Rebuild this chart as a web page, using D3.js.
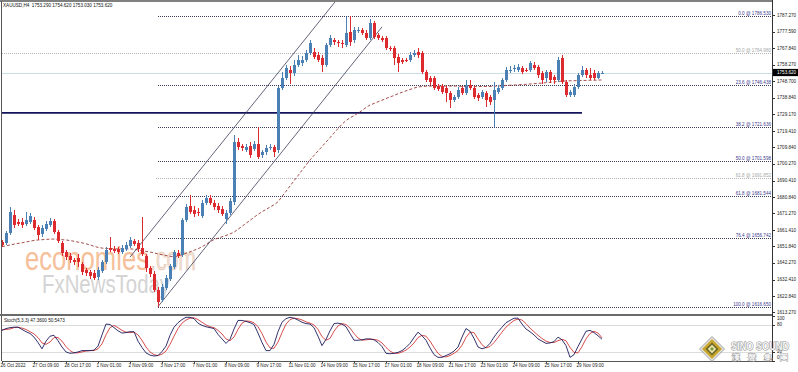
<!DOCTYPE html>
<html><head><meta charset="utf-8">
<script src="https://cdn.jsdelivr.net/npm/d3@7"></script>
<style>body{margin:0;background:#fff;overflow:hidden}svg{display:block}text{font-family:"Liberation Sans",Arial,sans-serif}</style>
</head><body><svg id="c" width="798" height="372"></svg>
<script>
const title = "XAUUSD,H4  1753.290 1754.620 1753.030 1753.620";
const stochTitle = "Stoch(5,3,3) 47.3600 50.5473";
const timeLabels = ["26 Oct 2022","27 Oct 09:00","28 Oct 17:00","1 Nov 01:00","2 Nov 09:00","3 Nov 17:00","7 Nov 01:00","8 Nov 09:00","9 Nov 17:00","11 Nov 01:00","14 Nov 09:00","15 Nov 17:00","17 Nov 01:00","18 Nov 09:00","21 Nov 17:00","23 Nov 01:00","24 Nov 09:00","25 Nov 17:00","29 Nov 09:00"];
const barsPerLabel = 8;
const priceTicks = [1787.270,1777.590,1767.840,1758.270,1748.700,1738.840,1729.170,1719.410,1709.840,1700.270,1690.410,1680.840,1671.270,1661.410,1651.840,1642.270,1632.410,1622.840,1613.270];
const stochTicks = [100,80,20,0];
const stochLevels = [80,20];
const bidPrice = 1753.62;
const supportLine = 1730.0;
const supportEndBar = 145;
const fibMain = [["0.0",1786.530],["23.6",1746.438],["38.2",1721.636],["50.0",1701.598],["61.8",1681.544],["76.4",1656.742],["100.0",1616.650]];
const fibMainStart = 39;
const fibAlt = [["50.0",1764.980,-1],["61.8",1691.852,38.5]];
const channelLower = [[39,1616.65],[95,1780.3]];
const channelUpper = [[32,1645.6],[84,1797.1]];

const open = [1654.5,1653.9,1659.75,1670.3,1666.2,1666.2,1665.0,1666.2,1667.35,1663.3,
1659.2,1662.1,1664.4,1666.8,1660.3,1653.9,1648.6,1646.3,1643.95,1645.1,
1641.6,1638.1,1636.9,1636.3,1634.0,1637.5,1642.8,1651.0,1650.4,1650.4,
1648.6,1650.4,1652.1,1655.1,1653.9,1651.0,1646.3,1639.3,1635.8,1626.4,
1620.55,1627.6,1632.9,1639.85,1648.0,1646.9,1667.35,1675.5,1673.2,1672.0,
1669.7,1677.3,1680.2,1677.3,1675.5,1673.8,1667.9,1671.45,1677.9,1713.0,
1710.6,1708.3,1710.6,1708.9,1711.8,1705.4,1707.1,1709.5,1710.1,1708.3,
1744.6,1750.4,1755.1,1753.3,1758.0,1759.2,1761.0,1765.05,1765.6,1763.9,
1762.1,1758.0,1769.7,1772.65,1771.5,1770.9,1769.7,1777.3,1772.65,1777.9,
1778.5,1776.7,1773.8,1782.6,1775.6,1773.8,1773.8,1768.0,1768.0,1762.7,
1761.0,1761.0,1761.0,1763.9,1765.6,1765.05,1753.9,1750.4,1750.4,1745.7,
1745.7,1744.6,1741.6,1737.55,1739.3,1744.6,1741.6,1746.3,1744.6,1740.5,
1739.3,1741.6,1739.3,1737.55,1742.2,1744.6,1749.25,1754.5,1755.7,1755.1,
1756.3,1755.1,1755.1,1758.0,1756.9,1753.3,1750.4,1753.9,1751.0,1749.25,
1762.1,1748.1,1740.5,1740.5,1745.2,1752.2,1755.1,1752.2,1753.3,1750.4,
1753.29];
const close = [1652.7,1659.75,1672.0,1664.4,1665.0,1664.4,1667.35,1669.7,1662.7,1658.6,
1662.7,1665.0,1666.8,1660.3,1655.1,1648.0,1645.7,1643.95,1642.8,1642.8,
1636.9,1636.3,1634.6,1633.4,1638.1,1642.8,1649.8,1649.8,1649.2,1648.6,
1651.0,1652.7,1655.65,1653.3,1650.4,1647.5,1639.3,1635.8,1626.4,1619.4,
1628.2,1633.4,1640.4,1648.6,1646.3,1667.35,1674.9,1672.0,1670.9,1671.45,
1677.3,1680.2,1677.3,1674.9,1673.2,1670.9,1671.45,1678.5,1713.0,1710.1,
1709.5,1710.1,1705.4,1711.8,1704.2,1707.1,1709.5,1710.1,1707.1,1744.6,
1750.4,1756.3,1753.3,1758.0,1761.0,1761.0,1765.05,1770.9,1762.7,1761.0,
1758.0,1769.7,1773.8,1771.5,1770.9,1770.3,1776.7,1771.5,1778.5,1778.5,
1776.7,1773.8,1782.6,1774.4,1773.8,1772.65,1768.0,1767.4,1762.1,1759.2,
1759.8,1760.4,1763.9,1765.05,1763.9,1753.9,1749.25,1748.1,1744.6,1744.0,
1742.2,1741.6,1737.55,1739.3,1743.4,1741.6,1746.3,1744.6,1739.3,1738.7,
1742.2,1737.55,1736.4,1743.4,1744.6,1749.25,1755.1,1755.1,1756.3,1756.9,
1753.9,1754.5,1759.2,1756.3,1752.2,1749.25,1753.9,1749.25,1749.25,1761.0,
1748.1,1740.5,1742.2,1745.2,1752.2,1755.1,1752.2,1750.4,1750.4,1753.3,
1753.62];
const high = [1655.65,1660.9,1674.9,1673.2,1667.9,1668.5,1672.0,1671.45,1669.1,1664.4,
1664.4,1666.8,1668.5,1667.9,1661.5,1655.1,1649.8,1648.0,1645.1,1647.5,
1642.8,1639.3,1638.1,1638.1,1639.85,1643.95,1651.6,1657.4,1652.1,1651.6,
1652.7,1654.5,1657.4,1656.2,1655.65,1669.1,1647.5,1640.4,1637.5,1628.2,
1629.9,1635.2,1641.6,1649.8,1649.8,1668.5,1676.7,1682.0,1675.5,1674.4,
1679.05,1682.0,1682.0,1679.05,1677.3,1675.5,1673.2,1680.2,1717.1,1715.3,
1711.8,1711.8,1713.0,1713.6,1721.8,1708.3,1711.2,1711.8,1711.2,1745.7,
1753.9,1758.0,1757.4,1761.0,1763.9,1763.3,1766.8,1772.65,1768.0,1765.6,
1763.9,1770.9,1775.6,1773.8,1772.65,1772.65,1786.1,1786.53,1780.3,1780.3,
1779.7,1778.5,1784.9,1783.8,1776.7,1775.0,1775.0,1769.1,1769.1,1764.5,
1762.1,1762.1,1765.6,1766.8,1768.0,1766.2,1755.1,1751.6,1751.6,1746.9,
1746.9,1745.7,1742.8,1740.5,1745.2,1745.7,1749.25,1749.25,1745.7,1741.6,
1743.4,1742.8,1740.5,1748.1,1746.3,1750.4,1756.9,1757.4,1758.0,1758.6,
1757.4,1756.3,1760.4,1759.8,1758.0,1754.5,1755.1,1755.1,1752.2,1762.7,
1763.9,1749.25,1743.4,1746.9,1753.3,1757.4,1756.3,1756.3,1755.1,1754.5,
1754.62];
const low = [1651.6,1652.7,1658.6,1662.7,1663.9,1662.7,1663.9,1665.0,1661.5,1655.65,
1657.4,1660.9,1663.3,1659.2,1653.9,1646.3,1643.95,1642.2,1641.0,1639.85,
1635.2,1634.6,1632.9,1632.25,1632.25,1636.3,1641.6,1648.6,1648.0,1647.5,
1647.5,1649.2,1651.0,1652.1,1648.6,1646.3,1636.9,1634.0,1625.2,1616.65,
1619.4,1626.4,1631.7,1638.7,1645.1,1645.7,1666.2,1670.9,1669.1,1669.7,
1668.5,1676.1,1676.1,1673.2,1671.45,1669.7,1665.0,1670.3,1676.1,1708.3,
1707.7,1707.1,1703.6,1707.7,1703.0,1703.6,1705.4,1708.3,1704.2,1706.5,
1743.4,1749.25,1746.9,1751.6,1756.9,1757.4,1759.8,1763.9,1761.5,1759.8,
1753.9,1756.9,1768.6,1769.7,1768.6,1768.0,1768.6,1769.1,1770.9,1776.7,
1775.6,1772.65,1772.65,1773.2,1772.65,1771.5,1766.8,1766.2,1758.0,1753.9,
1758.6,1759.8,1759.8,1762.7,1762.1,1752.8,1748.1,1746.3,1743.4,1742.8,
1741.1,1736.4,1732.9,1736.4,1738.1,1740.5,1740.5,1743.4,1738.1,1737.0,
1738.1,1733.5,1734.6,1721.8,1741.1,1743.4,1748.1,1753.3,1753.9,1753.9,
1752.8,1753.9,1753.9,1755.1,1750.4,1746.9,1748.1,1747.5,1746.9,1748.1,
1746.9,1739.3,1739.3,1739.3,1744.0,1751.0,1750.4,1749.25,1749.25,1749.8,
1753.03];
const ma = [1651.8,1652.2,1652.7,1653.2,1653.6,1654.0,1654.5,1654.9,1655.4,1655.65,
1655.8,1656.0,1656.1,1656.2,1656.0,1655.8,1655.65,1655.3,1654.9,1654.4,
1654.0,1653.4,1652.7,1652.0,1651.3,1650.9,1650.7,1650.6,1650.5,1650.4,
1650.4,1650.4,1650.4,1650.3,1649.8,1649.4,1649.0,1648.6,1648.1,1647.5,
1647.0,1646.5,1646.1,1645.8,1646.3,1647.0,1647.9,1648.7,1649.6,1650.5,
1651.7,1653.1,1654.6,1655.9,1656.7,1657.5,1658.3,1659.2,1660.2,1661.9,
1663.6,1665.4,1667.1,1668.9,1670.6,1672.2,1673.5,1674.9,1676.2,1678.0,
1681.1,1684.1,1687.2,1690.3,1693.3,1696.4,1699.4,1702.45,1705.1,1707.7,
1710.3,1712.9,1715.5,1718.2,1720.8,1723.4,1725.5,1727.1,1728.4,1729.8,
1731.4,1733.1,1734.6,1735.5,1736.5,1737.4,1738.4,1739.3,1740.2,1741.2,
1742.05,1742.9,1743.7,1744.5,1745.2,1745.4,1745.6,1745.7,1745.7,1745.7,
1745.7,1745.7,1745.7,1745.7,1745.7,1745.45,1745.45,1745.45,1745.45,1745.45,
1745.45,1745.45,1745.45,1745.6,1745.7,1745.9,1746.0,1746.2,1746.3,1746.4,
1746.6,1746.7,1746.9,1747.1,1747.3,1747.4,1747.7,1747.9,1748.1,1748.4,
1748.6,1748.7,1748.8,1748.8,1748.9,1748.95,1749.0,1749.1,1749.1,1749.2,
1749.25];
const stochK = [67,71,73,74,74,69,64,60,52,40,
26,43,54,56,44,30,19,16,17,19,
22,22,22,23,32,57,81,80,73,66,
61,62,64,64,43,29,17,12,10,11,
20,32,56,74,84,91,96,96,93,83,
78,75,73,71,58,48,38,47,70,89,
89,87,84,80,61,40,22,22,36,64,
85,93,96,94,90,85,82,81,73,54,
33,47,66,82,83,81,75,60,45,45,
46,48,48,46,40,31,16,15,16,18,
22,29,38,51,63,55,45,28,13,7,
7,11,15,21,30,52,71,65,49,30,
26,29,38,52,64,74,84,89,94,94,
81,70,64,57,48,43,38,39,42,52,
46,33,7,13,31,48,65,67,62,55,
47.36];
const stochD = [68,69,70,73,74,72,69,64,59,51,
39,36,41,51,51,43,31,22,17,17,
19,21,22,22,26,37,57,73,78,73,
67,63,62,63,57,45,30,19,13,11,
14,21,36,54,71,83,90,94,95,91,
85,79,75,73,67,59,48,44,52,69,
83,88,87,84,75,60,41,28,27,41,
62,81,91,94,93,90,86,83,79,69,
53,45,49,65,77,82,80,72,60,50,
45,46,47,47,45,39,29,21,16,16,
19,23,30,39,51,56,54,43,29,16,
9,8,11,16,22,34,51,63,62,48,
35,28,31,40,51,63,74,82,89,92,
90,82,72,64,56,49,43,40,40,44,
47,44,29,18,17,31,48,60,65,61,
50.55];

const N = open.length;
const plotL = 1.5, plotR = 772, plotT = 1, mainB = 313.5, stT = 315.5, stB = 361;
const x = d3.scaleLinear().domain([0, 150]).range([2, 602]);
const y = d3.scaleLinear().domain([1613.27, 1787.27]).range([312.4, 15]);
const ys = d3.scaleLinear().domain([0, 100]).range([360.5, 315.5]);
const FS = 4.6;
const svg = d3.select("#c");
const defs = svg.append("defs");
defs.append("clipPath").attr("id","cm").append("rect").attr("x",plotL).attr("y",plotT).attr("width",plotR-plotL).attr("height",mainB-plotT);
defs.append("clipPath").attr("id","cs").append("rect").attr("x",plotL).attr("y",stT).attr("width",plotR-plotL).attr("height",stB-stT);

const main = svg.append("g").attr("clip-path","url(#cm)");
// watermark
const wm = main.append("g");
wm.append("text").attr("x",25).attr("y",270).attr("font-size",34).attr("fill","#f6c09a").attr("textLength",124).attr("lengthAdjust","spacingAndGlyphs").text("economies");
wm.append("text").attr("x",150).attr("y",270).attr("font-size",34).attr("fill","#f1e0d4").attr("stroke","#e6c6ae").attr("stroke-width",0.6).attr("textLength",46).attr("lengthAdjust","spacingAndGlyphs").text(".com");
wm.append("text").attr("x",42).attr("y",293).attr("font-size",25).attr("fill","#d4d4d4").attr("textLength",128).attr("lengthAdjust","spacingAndGlyphs").text("FxNewsToday");

// alt fib (gray)
fibAlt.forEach(([lv,p,s]) => {
  main.append("line").attr("x1",x(s)).attr("x2",plotR).attr("y1",Math.round(y(p))+0.5).attr("y2",Math.round(y(p))+0.5)
    .attr("stroke","#b4b4b4").attr("stroke-dasharray","1,1");
});
// bid line
main.append("line").attr("x1",plotL).attr("x2",plotR).attr("y1",Math.round(y(bidPrice))+0.5).attr("y2",Math.round(y(bidPrice))+0.5).attr("stroke","#c8dfe4");
// main fib
fibMain.forEach(([lv,p]) => {
  main.append("line").attr("x1",x(fibMainStart)).attr("x2",plotR).attr("y1",Math.round(y(p))+0.5).attr("y2",Math.round(y(p))+0.5)
    .attr("stroke","#3a3a5c").attr("stroke-dasharray","1,1");
});
// support line
main.append("line").attr("x1",plotL).attr("x2",x(supportEndBar)).attr("y1",y(supportLine)).attr("y2",y(supportLine)).attr("stroke","#14145e").attr("stroke-width",1.6);
// MA
main.append("path").datum(ma).attr("fill","none").attr("stroke","#9a3b36").attr("stroke-width",0.9).attr("stroke-dasharray","3,2")
  .attr("d", d3.line().x((d,i)=>x(i)).y(d=>y(d)));
// channel
[channelLower, channelUpper].forEach(c => {
  main.append("line").attr("x1",x(c[0][0])).attr("y1",y(c[0][1])).attr("x2",x(c[1][0])).attr("y2",y(c[1][1]))
    .attr("stroke","#3c3c58").attr("stroke-width",0.8);
});
// candles
const bull = "#4a80b4", bear = "#dc2a2e";
const cg = main.append("g").attr("shape-rendering","crispEdges");
d3.range(N).forEach(i => {
  const cx = Math.round(x(i));
  const col = close[i] >= open[i] ? bull : bear;
  cg.append("line").attr("x1",cx+0.5).attr("x2",cx+0.5).attr("y1",y(high[i])).attr("y2",y(low[i])).attr("stroke",col);
  const t = Math.min(y(open[i]),y(close[i])), b = Math.max(y(open[i]),y(close[i]));
  cg.append("rect").attr("x",cx-1).attr("width",3).attr("y",t).attr("height",Math.max(1,b-t)).attr("fill",col);
});
// fib labels
fibMain.forEach(([lv,p]) => {
  main.append("text").attr("x",plotR-1).attr("y",y(p)-1).attr("text-anchor","end").attr("font-size",FS).attr("fill","#3a3a8c")
    .text(`${lv} @ ${p.toFixed(3)}`);
});
fibAlt.forEach(([lv,p]) => {
  main.append("text").attr("x",plotR-1).attr("y",y(p)-1).attr("text-anchor","end").attr("font-size",FS).attr("fill","#a6a6a6")
    .text(`${lv} @ ${p.toFixed(3)}`);
});

// stochastic panel
const st = svg.append("g").attr("clip-path","url(#cs)");
stochLevels.forEach(v => {
  st.append("line").attr("x1",plotL).attr("x2",plotR).attr("y1",Math.round(ys(v))+0.5).attr("y2",Math.round(ys(v))+0.5).attr("stroke","#b8b8b8").attr("stroke-dasharray","1,1");
});
st.append("path").datum(stochD).attr("fill","none").attr("stroke","#d23a3a").attr("stroke-width",0.9).attr("d", d3.line().x((d,i)=>x(i)).y(d=>ys(d)));
st.append("path").datum(stochK).attr("fill","none").attr("stroke","#1c1c5c").attr("stroke-width",0.9).attr("d", d3.line().x((d,i)=>x(i)).y(d=>ys(d)));
svg.append("text").attr("x",4).attr("y",321.5).attr("font-size",FS).attr("fill","#111").text(stochTitle);

// frames
const fr = svg.append("g").attr("shape-rendering","crispEdges");
fr.append("line").attr("x1",0).attr("x2",plotR).attr("y1",1).attr("y2",1).attr("stroke","#808080").attr("stroke-width",1.5);
fr.append("line").attr("x1",1.5).attr("x2",1.5).attr("y1",1).attr("y2",stB).attr("stroke","#555");
fr.append("line").attr("x1",0).attr("x2",plotR).attr("y1",314.5).attr("y2",314.5).attr("stroke","#6a6a6a").attr("stroke-width",2);
fr.append("line").attr("x1",1.5).attr("x2",plotR).attr("y1",stB+0.5).attr("y2",stB+0.5).attr("stroke","#555");
fr.append("line").attr("x1",plotR+0.5).attr("x2",plotR+0.5).attr("y1",0).attr("y2",stB+1).attr("stroke","#333");

// title
svg.append("text").attr("x",3).attr("y",6.5).attr("font-size",FS).attr("fill","#111").attr("xml:space","preserve").text(title);

// price axis
const ax = svg.append("g");
priceTicks.forEach(p => {
  const yy = y(p);
  ax.append("line").attr("x1",plotR).attr("x2",plotR+3).attr("y1",Math.round(yy)+0.5).attr("y2",Math.round(yy)+0.5).attr("stroke","#333");
  ax.append("text").attr("x",777).attr("y",yy+1.6).attr("font-size",FS).attr("fill","#222").text(p.toFixed(3));
});
stochTicks.forEach(v => {
  const yy = Math.max(318.5, Math.min(357.5, ys(v)));
  ax.append("line").attr("x1",plotR).attr("x2",plotR+3).attr("y1",Math.round(ys(v))+0.5).attr("y2",Math.round(ys(v))+0.5).attr("stroke","#333");
  ax.append("text").attr("x",777).attr("y",yy+1.6).attr("font-size",FS).attr("fill","#222").text(v);
});
// bid box
ax.append("rect").attr("x",plotR+1).attr("y",y(bidPrice)-3.6).attr("width",25).attr("height",7.2).attr("fill","#000");
ax.append("text").attr("x",777).attr("y",y(bidPrice)+1.6).attr("font-size",FS).attr("fill","#fff").text(bidPrice.toFixed(3));

// time axis
timeLabels.forEach((t,k) => {
  const xx = Math.round(x(k*barsPerLabel));
  ax.append("line").attr("x1",xx+0.5).attr("x2",xx+0.5).attr("y1",stB).attr("y2",stB+2.5).attr("stroke","#444");
  ax.append("text").attr("x",Math.max(0.5,xx-1.5)).attr("y",366.5).attr("font-size",FS).attr("fill","#222").text(t);
});

// logo
const lg = svg.append("g").attr("transform","translate(712,349)");
const dia = r => `M0,${-r}L${r},0L0,${r}L${-r},0Z`;
lg.append("path").attr("d",dia(12.5)).attr("fill","#e2e2e2").attr("stroke","#8c8c8c").attr("stroke-width",0.8);
lg.append("path").attr("d",dia(10)).attr("fill","#c9a62c");
lg.append("path").attr("d",dia(6.5)).attr("fill","#6f6a2a");
lg.append("path").attr("d",dia(4.2)).attr("fill","#eae6b0");
lg.append("path").attr("d",dia(2)).attr("fill","#7f9a3a");
svg.append("text").attr("x",731).attr("y",350).attr("font-size",10).attr("font-weight","bold").attr("fill","#f6f6f6")
  .attr("stroke","#8a8a8a").attr("stroke-width",1).attr("paint-order","stroke").attr("textLength",58).attr("lengthAdjust","spacingAndGlyphs").text("SINO SOUND");
svg.append("text").attr("x",732).attr("y",360).attr("font-size",7.5).attr("font-family","Noto Sans CJK TC").attr("font-weight","bold").attr("fill","#f6f6f6")
  .attr("stroke","#8a8a8a").attr("stroke-width",0.8).attr("paint-order","stroke").attr("textLength",56).attr("lengthAdjust","spacing").text("漢聲集團");
</script></body></html>
